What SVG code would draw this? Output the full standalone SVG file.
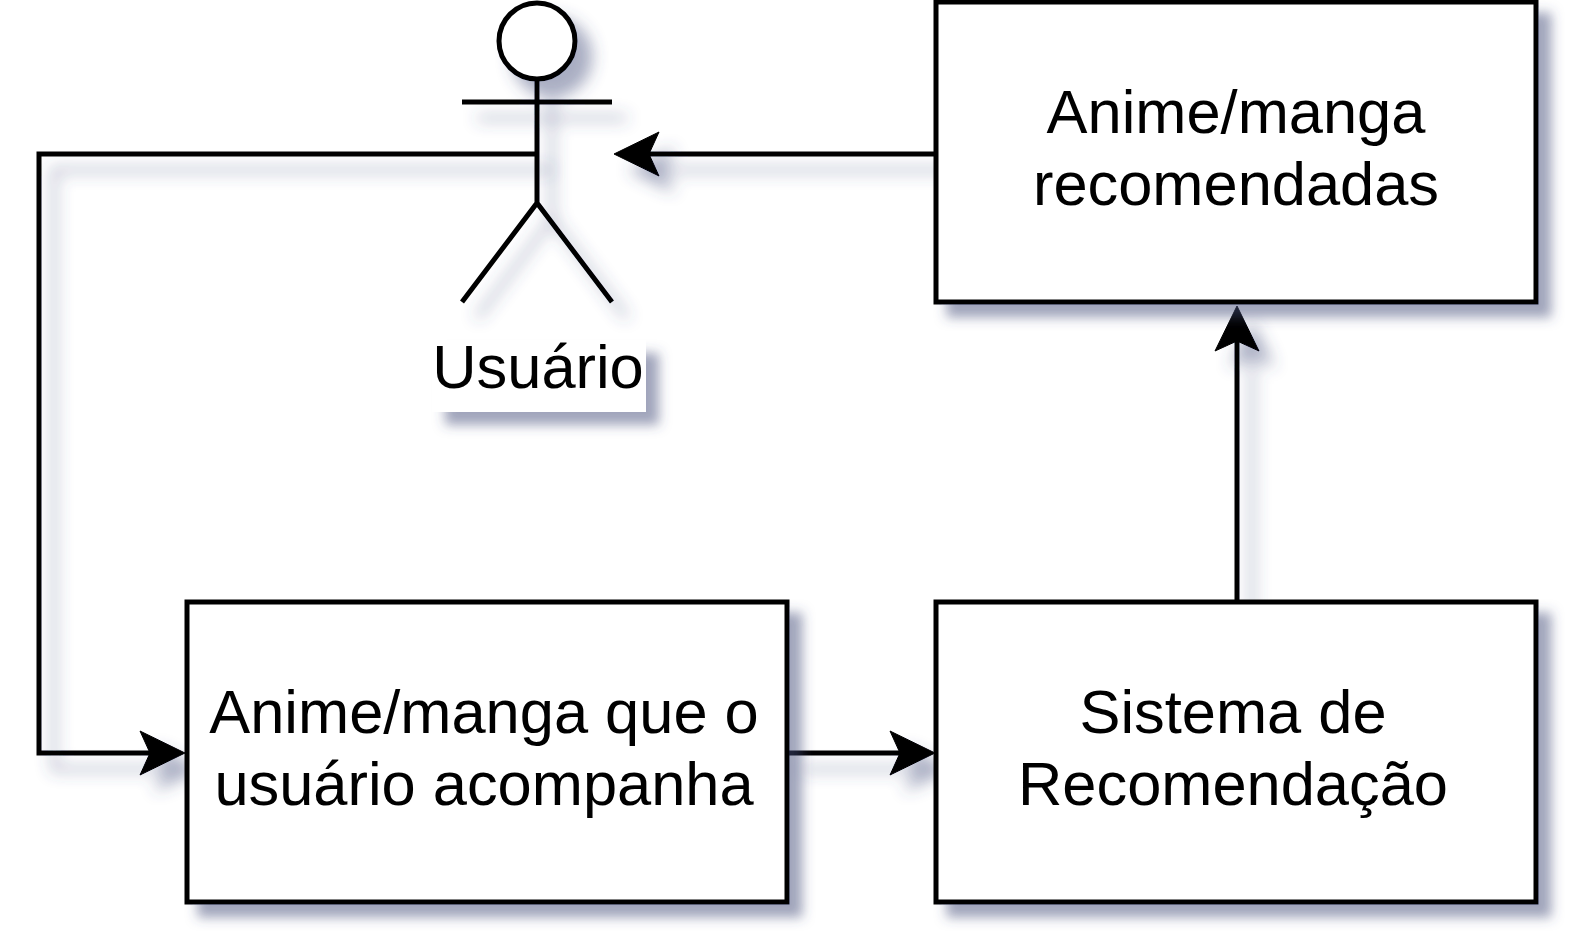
<svg xmlns="http://www.w3.org/2000/svg" width="1570" height="940" viewBox="0 0 1570 940">
<defs>
<filter id="sh" filterUnits="userSpaceOnUse" x="0" y="0" width="1570" height="940"><feDropShadow dx="13" dy="13" stdDeviation="6" flood-color="#3f4a78" flood-opacity="0.5"/></filter>
<filter id="shl" filterUnits="userSpaceOnUse" x="0" y="0" width="1570" height="940"><feDropShadow dx="15" dy="16" stdDeviation="8" flood-color="#3f4a78" flood-opacity="0.45"/></filter>
<marker id="arr" markerUnits="userSpaceOnUse" markerWidth="48" markerHeight="48" refX="36" refY="24" orient="auto"><path d="M1,2 L46,24 L1,46 L11,24 Z" fill="#000" stroke="#000" stroke-width="1"/></marker>
</defs>
<style>
.b{fill:#fff;stroke:#000;stroke-width:5}
.l{fill:none;stroke:#000;stroke-width:5}
text{font-family:"Liberation Sans",Arial,sans-serif;font-size:61.4px;fill:#000;text-anchor:middle}
</style>
<rect width="1570" height="940" fill="#fff"/>
<g id="connectors" filter="url(#shl)">
<path class="l" d="M537,154 H39 V753 H175" marker-end="url(#arr)"/>
<path class="l" d="M936,154 H624" marker-end="url(#arr)"/>
<path class="l" d="M787,753 H925" marker-end="url(#arr)"/>
<path class="l" d="M1237,601 V316" marker-end="url(#arr)"/>
</g>
<g id="usuario">
<g filter="url(#shl)">
<circle class="b" cx="537" cy="41" r="38"/>
<path class="l" d="M537,79 V203 M462,102 H612 M462,302 L537,203 L612,302"/>
</g>
<rect x="432" y="340" width="214" height="72" fill="#fff" filter="url(#sh)"/>
<text x="538" y="388">Usuário</text>
</g>
<g id="recomendadas">
<rect class="b" x="936" y="2" width="600" height="300" filter="url(#sh)"/>
<text x="1236" y="133">Anime/manga</text>
<text x="1236" y="205">recomendadas</text>
</g>
<g id="acompanha">
<rect class="b" x="187" y="602" width="600" height="300" filter="url(#sh)"/>
<text x="484" y="733">Anime/manga que o</text>
<text x="484" y="805">usuário acompanha</text>
</g>
<g id="sistema">
<rect class="b" x="936" y="602" width="600" height="300" filter="url(#sh)"/>
<text x="1233" y="733">Sistema de</text>
<text x="1233" y="805">Recomendação</text>
</g>
</svg>
